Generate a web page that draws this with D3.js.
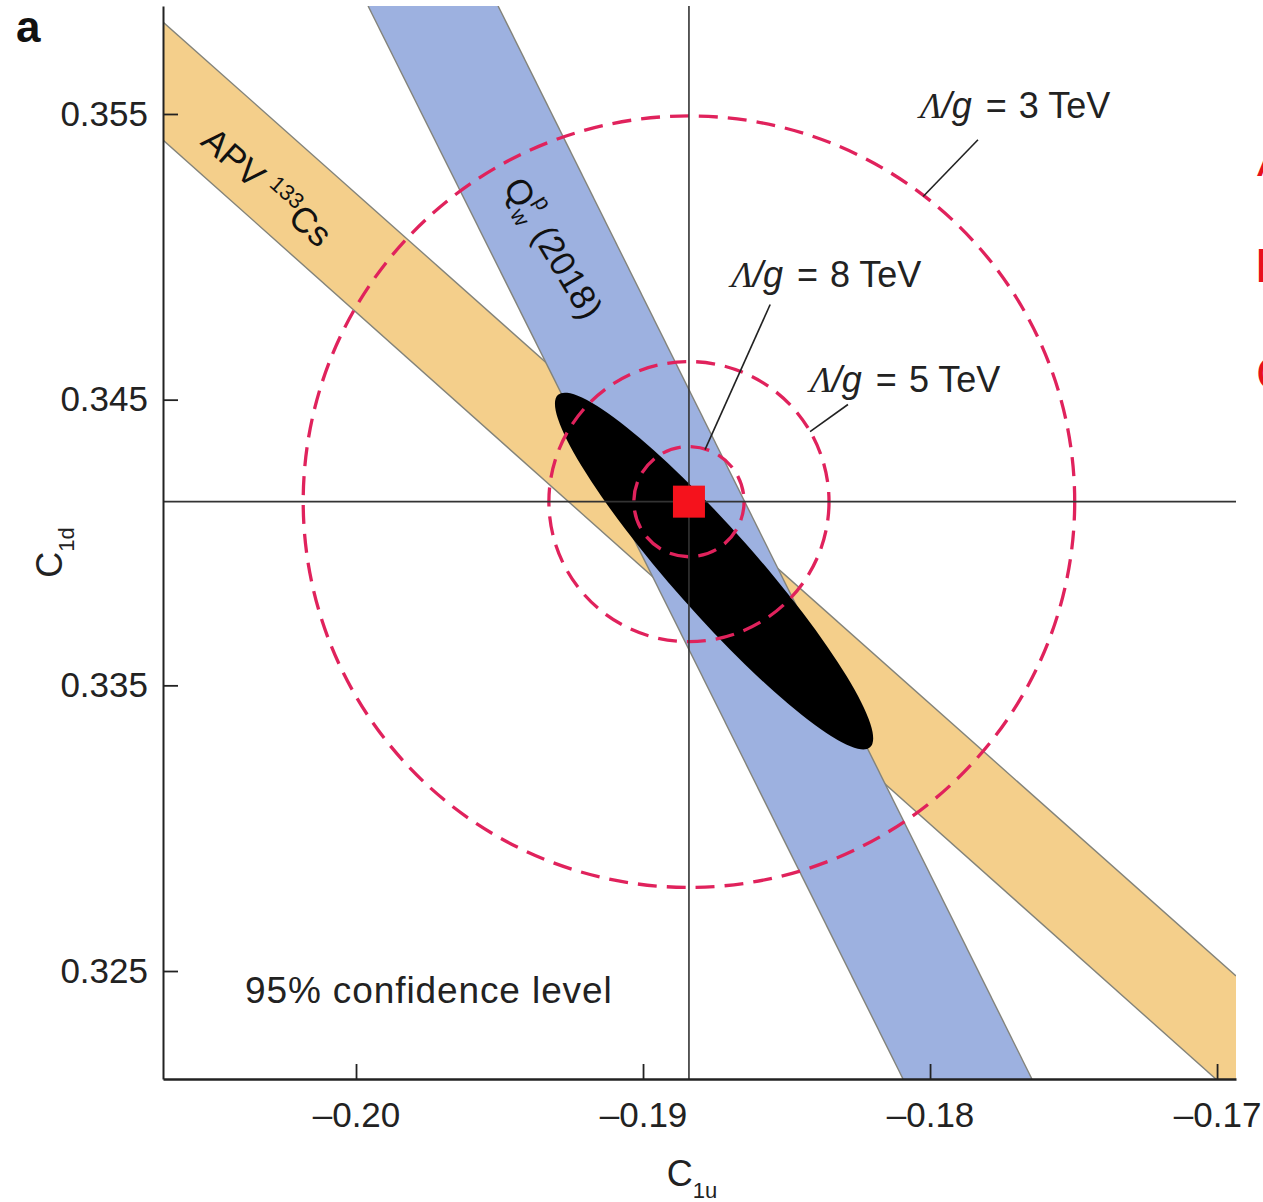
<!DOCTYPE html>
<html><head><meta charset="utf-8">
<script src="https://cdn.jsdelivr.net/npm/d3@7"></script>
<style>body{margin:0;background:#fff}svg{display:block}</style>
</head><body>
<svg id="chart" width="1263" height="1202"></svg>
<script>
// ---------- data ----------
const xDomain = [-0.206725, -0.16934];
const yDomain = [0.32122, 0.35878];
const xTicks = [-0.20, -0.19, -0.18, -0.17];
const xTickLabels = ["\u20130.20", "\u20130.19", "\u20130.18", "\u20130.17"];
const yTicks = [0.325, 0.335, 0.345, 0.355];
const yTickLabels = ["0.325", "0.335", "0.345", "0.355"];

// APV 133Cs band edges [C1u, C1d]
const apvUpper = [[-0.206725, 0.35822], [-0.16934, 0.32483]];
const apvLower = [[-0.206725, 0.35409], [-0.16934, 0.32059]];
// Qw^p (2018) band edges
const qwLeft  = [[-0.19958, 0.35878], [-0.18094, 0.32122]];
const qwRight = [[-0.19505, 0.35878], [-0.17645, 0.32122]];
// combined 95% CL ellipse: end points of major axis, half width (C1u units)
const ellipseTips = [[-0.19296, 0.34517], [-0.18209, 0.33283]];
const ellipseHalfWidth = 0.00146;
// Standard Model point
const smPoint = [-0.1884, 0.34143];
// Lambda/g contours
const scaleLabels = ["3", "5", "8"];
const scaleRadii = [0.01344, 0.00488, 0.00192];
const scaleTextPos = [[-0.18035, 0.35487], [-0.18418, 0.34528], [-0.18693, 0.34896]];
const scaleLeaders = [
  [[-0.17833, 0.35410], [-0.18024, 0.35211]],
  [[-0.18286, 0.34483], [-0.18418, 0.34388]],
  [[-0.18557, 0.34833], [-0.18784, 0.34325]]
];
const apvLabelPos = [-0.20546, 0.35397];
const qwLabelPos = [-0.19490, 0.35245];
const clLabelPos = [-0.20387, 0.32389];

// ---------- drawing ----------
const FONT = "'Liberation Sans', Arial, Helvetica, sans-serif";
const svg = d3.select("#chart");
const L = 163, R = 1236, T = 6, B = 1079;
const x = d3.scaleLinear().domain(xDomain).range([L, R]);
const y = d3.scaleLinear().domain(yDomain).range([B, T]);
const pxPerUnit = (R - L) / (xDomain[1] - xDomain[0]);

svg.append("rect").attr("width", 1263).attr("height", 1202).attr("fill", "#fff");
svg.append("defs").append("clipPath").attr("id", "clip")
  .append("rect").attr("x", L).attr("y", T).attr("width", R - L).attr("height", B - T);

const g = svg.append("g").attr("clip-path", "url(#clip)");
const line = d3.line().x(d => x(d[0])).y(d => y(d[1]));

function band(e1, e2, fill) {
  g.append("path").attr("d", line(e1.concat(e2.slice().reverse())) + "Z").attr("fill", fill);
  [e1, e2].forEach(e => g.append("path").attr("d", line(e))
    .attr("fill", "none").attr("stroke", "#83837a").attr("stroke-width", 1.4));
}
band(apvUpper, apvLower, "#f4cf8b");
band(qwLeft, qwRight, "#9db1e0");

// ellipse
const p1 = [x(ellipseTips[0][0]), y(ellipseTips[0][1])];
const p2 = [x(ellipseTips[1][0]), y(ellipseTips[1][1])];
const ec = [(p1[0] + p2[0]) / 2, (p1[1] + p2[1]) / 2];
const ea = Math.hypot(p2[0] - p1[0], p2[1] - p1[1]) / 2;
const eang = Math.atan2(p2[1] - p1[1], p2[0] - p1[0]) * 180 / Math.PI;
g.append("ellipse").attr("cx", ec[0]).attr("cy", ec[1])
  .attr("rx", ea).attr("ry", ellipseHalfWidth * pxPerUnit)
  .attr("transform", `rotate(${eang},${ec[0]},${ec[1]})`)
  .attr("fill", "#000");

// dashed contours
g.selectAll("circle.c").data(scaleRadii).enter().append("circle")
  .attr("cx", x(smPoint[0])).attr("cy", y(smPoint[1]))
  .attr("r", d => d * pxPerUnit)
  .attr("fill", "none").attr("stroke", "#e0225c").attr("stroke-width", 3.3)
  .attr("stroke-dasharray", "19,10");

// crosshair
svg.append("line").attr("x1", x(smPoint[0])).attr("x2", x(smPoint[0]))
  .attr("y1", T).attr("y2", B).attr("stroke", "#333").attr("stroke-width", 1.6);
svg.append("line").attr("x1", L).attr("x2", R)
  .attr("y1", y(smPoint[1])).attr("y2", y(smPoint[1])).attr("stroke", "#333").attr("stroke-width", 1.6);

// SM point
svg.append("rect").attr("x", x(smPoint[0]) - 16).attr("y", y(smPoint[1]) - 16)
  .attr("width", 32).attr("height", 32).attr("fill", "#f5121c");

// axes
const yAxis = d3.axisLeft(y).tickValues(yTicks).tickFormat((d, i) => yTickLabels[i])
  .tickSizeInner(-15).tickSizeOuter(0).tickPadding(15);
const xAxis = d3.axisBottom(x).tickValues(xTicks).tickFormat((d, i) => xTickLabels[i])
  .tickSizeInner(-15).tickSizeOuter(0).tickPadding(23);
const ya = svg.append("g").attr("transform", `translate(${L},0)`).call(yAxis);
const xa = svg.append("g").attr("transform", `translate(0,${B})`).call(xAxis);
[ya, xa].forEach(a => {
  a.select(".domain").attr("stroke", "#222").attr("stroke-width", 2);
  a.selectAll(".tick line").attr("stroke", "#222").attr("stroke-width", 1.8);
  a.selectAll(".tick text").attr("font-family", FONT).attr("font-size", 35).attr("fill", "#222");
});
xa.select(".domain").attr("stroke-width", 2.6);

// axis titles
const xt = svg.append("text").attr("x", 692).attr("y", 1186)
  .attr("text-anchor", "middle").attr("font-family", FONT).attr("fill", "#222");
xt.append("tspan").attr("font-size", 36).text("C");
xt.append("tspan").attr("font-size", 22).attr("dy", 12).text("1u");

const yt = svg.append("text").attr("transform", `translate(62,${(T + B) / 2 + 10}) rotate(-90)`)
  .attr("text-anchor", "middle").attr("font-family", FONT).attr("fill", "#222");
yt.append("tspan").attr("font-size", 36).text("C");
yt.append("tspan").attr("font-size", 22).attr("dy", 12).text("1d");

// panel letter
svg.append("text").attr("x", 16).attr("y", 42).attr("font-family", FONT)
  .attr("font-weight", "bold").attr("font-size", 44).attr("fill", "#111").text("a");

// band labels
const apv = svg.append("text")
  .attr("transform", `translate(${x(apvLabelPos[0])},${y(apvLabelPos[1])}) rotate(41.5)`)
  .attr("font-family", FONT).attr("font-size", 35).attr("fill", "#111");
apv.append("tspan").text("APV ");
apv.append("tspan").attr("font-size", 22).attr("dy", -14).text("133");
apv.append("tspan").attr("dy", 14).text("Cs");

const qw = svg.append("text")
  .attr("transform", `translate(${x(qwLabelPos[0])},${y(qwLabelPos[1])}) rotate(59)`)
  .attr("font-family", FONT).attr("font-size", 35).attr("fill", "#111");
qw.append("tspan").text("Q");
qw.append("tspan").attr("font-size", 22).attr("dy", 8).text("w");
qw.append("tspan").attr("font-size", 22).attr("dx", -15).attr("dy", -27).text("p");
qw.append("tspan").attr("dx", 6).attr("dy", 19).text(" (2018)");

// Lambda/g labels
scaleLabels.forEach((lab, i) => {
  const t = svg.append("text").attr("x", x(scaleTextPos[i][0])).attr("y", y(scaleTextPos[i][1]))
    .attr("font-family", FONT).attr("font-size", 36).attr("fill", "#222");
  t.append("tspan").attr("font-family", "'Liberation Serif', 'Times New Roman', serif")
    .attr("font-style", "italic").text("\u039B");
  t.append("tspan").attr("font-style", "italic").text("/g");
  t.append("tspan").attr("dx", 4).text(" = ");
  t.append("tspan").attr("dx", 2).text(lab + " TeV");
  const ld = scaleLeaders[i];
  svg.append("line").attr("x1", x(ld[0][0])).attr("y1", y(ld[0][1]))
    .attr("x2", x(ld[1][0])).attr("y2", y(ld[1][1]))
    .attr("stroke", "#222").attr("stroke-width", 1.6);
});

svg.append("text").attr("x", x(clLabelPos[0])).attr("y", y(clLabelPos[1]))
  .attr("font-family", FONT).attr("font-size", 37).attr("letter-spacing", 0.9).attr("fill", "#222")
  .text("95% confidence level");

// cut-off letters from the neighbouring panel (only their left edges show)
const sideLetters = ["A", "E", "C"];
const sideX = [1257, 1255, 1256];
const sideY = [176, 282, 390];
sideLetters.forEach((s, i) => svg.append("text").attr("x", sideX[i]).attr("y", sideY[i])
  .attr("font-family", FONT).attr("font-size", 48).attr("fill", "#e8101c").text(s));
</script>
</body></html>
